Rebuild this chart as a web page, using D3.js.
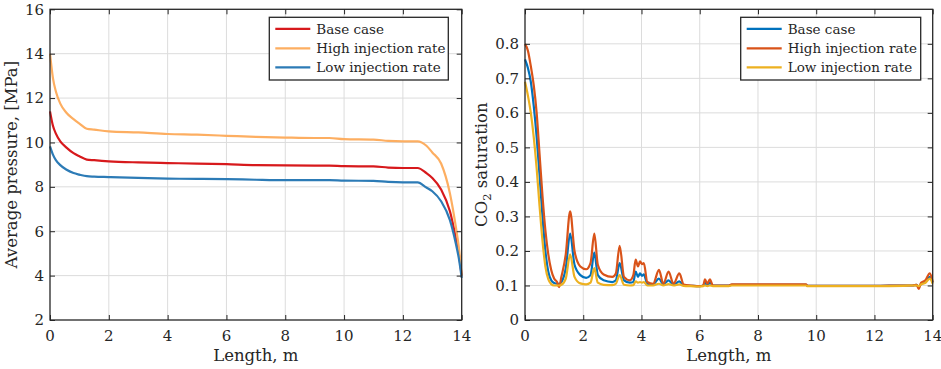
<!DOCTYPE html>
<html>
<head>
<meta charset="utf-8">
<script src="https://cdn.jsdelivr.net/npm/d3@7"></script>
<style>
  html, body { margin: 0; padding: 0; background: #fff; }
</style>
</head>
<body>
<div id="chart"></div>
<script>
// Left panel: average pressure along the core
const lenP = [0, 0.1, 0.2, 0.35, 0.55, 0.8, 1.0, 1.25, 1.5, 2, 3, 4, 5, 6, 7, 8, 9, 9.5, 10, 11, 11.5, 12, 12.5, 12.8, 13.0, 13.3, 13.6, 13.8, 13.9, 14];
const pBase = [11.4, 10.75, 10.4, 10.05, 9.78, 9.52, 9.38, 9.23, 9.2, 9.15, 9.1, 9.07, 9.05, 9.02, 8.98, 8.97, 8.96, 8.96, 8.93, 8.92, 8.87, 8.85, 8.85, 8.62, 8.4, 7.88, 6.9, 5.7, 5.0, 4.0];
const pHigh = [14.0, 12.9, 12.3, 11.75, 11.35, 11.05, 10.85, 10.62, 10.58, 10.5, 10.45, 10.38, 10.35, 10.3, 10.25, 10.22, 10.2, 10.2, 10.15, 10.13, 10.07, 10.05, 10.05, 9.85, 9.55, 9.05, 7.7, 6.2, 5.3, 4.0];
const pLow = [9.82, 9.45, 9.2, 8.98, 8.78, 8.62, 8.55, 8.48, 8.46, 8.44, 8.4, 8.37, 8.36, 8.35, 8.32, 8.3, 8.3, 8.3, 8.28, 8.27, 8.22, 8.2, 8.2, 7.97, 7.8, 7.35, 6.5, 5.45, 4.8, 3.9];

// Right panel: CO2 saturation along the core
const lenS = [0, 0.1, 0.2, 0.3, 0.4, 0.5, 0.6, 0.7, 0.8, 0.9, 1.0, 1.1, 1.17, 1.25, 1.4, 1.55, 1.7, 1.9, 2.1, 2.25, 2.38, 2.5, 2.7, 3.0, 3.12, 3.25, 3.4, 3.6, 3.72, 3.8, 3.88, 3.95, 4.02, 4.08, 4.2, 4.4, 4.6, 4.75, 4.93, 5.1, 5.3, 5.45, 5.7, 6.0, 6.12, 6.18, 6.26, 6.35, 6.45, 7.0, 7.1, 8.0, 9.0, 9.65, 9.7, 11, 12, 13, 13.3, 13.45, 13.52, 13.6, 13.75, 13.9, 14];
const sBase = [0.755, 0.73, 0.69, 0.62, 0.53, 0.42, 0.30, 0.2, 0.14, 0.115, 0.107, 0.105, 0.105, 0.11, 0.15, 0.25, 0.16, 0.13, 0.122, 0.13, 0.195, 0.13, 0.115, 0.11, 0.115, 0.165, 0.115, 0.108, 0.11, 0.14, 0.125, 0.135, 0.128, 0.132, 0.105, 0.103, 0.12, 0.103, 0.115, 0.102, 0.112, 0.1, 0.099, 0.098, 0.1, 0.108, 0.1, 0.108, 0.1, 0.1, 0.102, 0.102, 0.102, 0.102, 0.099, 0.099, 0.099, 0.1, 0.1, 0.102, 0.095, 0.105, 0.11, 0.125, 0.108];
const sHigh = [0.8, 0.78, 0.735, 0.68, 0.6, 0.48, 0.36, 0.26, 0.19, 0.145, 0.12, 0.11, 0.095, 0.125, 0.19, 0.315, 0.2, 0.155, 0.147, 0.165, 0.25, 0.16, 0.132, 0.125, 0.135, 0.215, 0.125, 0.115, 0.13, 0.175, 0.155, 0.17, 0.162, 0.165, 0.11, 0.105, 0.145, 0.105, 0.14, 0.105, 0.135, 0.103, 0.1, 0.098, 0.1, 0.118, 0.105, 0.118, 0.1, 0.1, 0.103, 0.103, 0.103, 0.103, 0.099, 0.099, 0.099, 0.1, 0.1, 0.102, 0.09, 0.108, 0.115, 0.135, 0.11];
const sLow = [0.69, 0.65, 0.6, 0.53, 0.44, 0.33, 0.23, 0.155, 0.118, 0.104, 0.1, 0.1, 0.1, 0.102, 0.12, 0.19, 0.125, 0.106, 0.103, 0.108, 0.15, 0.108, 0.102, 0.101, 0.105, 0.13, 0.102, 0.1, 0.101, 0.112, 0.108, 0.11, 0.108, 0.11, 0.1, 0.1, 0.105, 0.1, 0.104, 0.1, 0.103, 0.099, 0.098, 0.097, 0.098, 0.1, 0.098, 0.1, 0.098, 0.098, 0.1, 0.1, 0.1, 0.1, 0.098, 0.098, 0.098, 0.099, 0.1, 0.1, 0.098, 0.103, 0.108, 0.12, 0.105];

const seriesNames = ['Base case', 'High injection rate', 'Low injection rate'];
const xTicks = [0, 2, 4, 6, 8, 10, 12, 14];
const pTicks = [2, 4, 6, 8, 10, 12, 14, 16];
const sTicks = [0, 0.1, 0.2, 0.3, 0.4, 0.5, 0.6, 0.7, 0.8];

const FONT = 'DejaVu Serif';
const W = 941, H = 369;
const svg = d3.select('#chart').append('svg')
  .attr('width', W)
  .attr('height', H);
svg.append('rect').attr('width', W).attr('height', H).attr('fill', '#fff');

function drawPanel(cfg) {
  const { left, right, top, bottom } = cfg.box;
  const x = d3.scaleLinear().domain([0, 14]).range([left, right]);
  const y = d3.scaleLinear().domain(cfg.yDomain).range([bottom, top]);
  const g = svg.append('g');

  // grid
  g.append('g').selectAll('line').data(xTicks.slice(1, -1)).join('line')
    .attr('x1', d => x(d)).attr('x2', d => x(d))
    .attr('y1', top).attr('y2', bottom)
    .attr('stroke', '#dcdcdc').attr('stroke-width', 1);
  g.append('g').selectAll('line').data(cfg.yTicks.filter(d => y(d) > top + 1 && y(d) < bottom - 1)).join('line')
    .attr('x1', left).attr('x2', right)
    .attr('y1', d => y(d)).attr('y2', d => y(d))
    .attr('stroke', '#dcdcdc').attr('stroke-width', 1);

  // lines
  const line = d3.line()
    .x(d => x(d[0]))
    .y(d => y(d[1]))
    .curve(d3.curveMonotoneX);
  cfg.series.forEach((vals, i) => {
    g.append('path')
      .datum(cfg.len.map((l, k) => [l, vals[k]]))
      .attr('fill', 'none')
      .attr('stroke', cfg.colors[i])
      .attr('stroke-width', 2.2)
      .attr('stroke-linejoin', 'round')
      .attr('d', line);
  });

  // axes: inward ticks on all four sides
  const tick = 5;
  const fmtNone = () => '';
  const styleAxis = sel => {
    sel.select('.domain').remove();
    sel.selectAll('.tick line').attr('stroke', '#262626').attr('stroke-width', 1);
  };
  g.append('g').attr('transform', `translate(0,${bottom})`)
    .call(d3.axisBottom(x).tickValues(xTicks).tickSizeInner(-tick).tickSizeOuter(0).tickFormat(fmtNone))
    .call(styleAxis);
  g.append('g').attr('transform', `translate(0,${top})`)
    .call(d3.axisTop(x).tickValues(xTicks).tickSizeInner(-tick).tickSizeOuter(0).tickFormat(fmtNone))
    .call(styleAxis);
  g.append('g').attr('transform', `translate(${left},0)`)
    .call(d3.axisLeft(y).tickValues(cfg.yTicks).tickSizeInner(-tick).tickSizeOuter(0).tickFormat(fmtNone))
    .call(styleAxis);
  g.append('g').attr('transform', `translate(${right},0)`)
    .call(d3.axisRight(y).tickValues(cfg.yTicks).tickSizeInner(-tick).tickSizeOuter(0).tickFormat(fmtNone))
    .call(styleAxis);

  g.append('rect')
    .attr('x', left).attr('y', top)
    .attr('width', right - left).attr('height', bottom - top)
    .attr('fill', 'none').attr('stroke', '#262626').attr('stroke-width', 1.3);

  // tick labels
  g.append('g').selectAll('text').data(xTicks).join('text')
    .attr('x', d => x(d)).attr('y', bottom + 21)
    .attr('text-anchor', 'middle')
    .style('font-family', FONT)
    .attr('font-size', 15).attr('fill', '#262626')
    .text(d => d);
  g.append('g').selectAll('text').data(cfg.yTicks).join('text')
    .attr('x', left - 6).attr('y', d => y(d))
    .attr('dy', '0.36em')
    .attr('text-anchor', 'end')
    .style('font-family', FONT)
    .attr('font-size', 15).attr('fill', '#262626')
    .text(cfg.yFmt);

  // axis titles
  g.append('text')
    .attr('x', (left + right) / 2).attr('y', 361)
    .attr('text-anchor', 'middle')
    .style('font-family', FONT)
    .attr('font-size', 16.5).attr('fill', '#262626')
    .text('Length, m');
  const yl = g.append('text')
    .attr('transform', `translate(${cfg.yLabelX},${(top + bottom) / 2}) rotate(-90)`)
    .attr('text-anchor', 'middle')
    .style('font-family', FONT)
    .attr('font-size', 16.5).attr('fill', '#262626');
  cfg.yLabel(yl);

  // legend
  const lg = cfg.legend;
  g.append('rect')
    .attr('x', lg.x).attr('y', lg.y).attr('width', lg.w).attr('height', lg.h)
    .attr('fill', '#fff').attr('stroke', '#262626').attr('stroke-width', 1.3);
  const rows = [lg.y + 11.5, lg.y + 31, lg.y + 50];
  seriesNames.forEach((name, i) => {
    g.append('line')
      .attr('x1', lg.x + 6).attr('x2', lg.x + 41)
      .attr('y1', rows[i]).attr('y2', rows[i])
      .attr('stroke', cfg.colors[i]).attr('stroke-width', 2.2);
    g.append('text')
      .attr('x', lg.x + 47).attr('y', rows[i])
      .attr('dy', '0.36em')
      .style('font-family', FONT)
      .attr('font-size', 13.5).attr('fill', '#262626')
      .text(name);
  });
}

drawPanel({
  box: { left: 50, right: 461.7, top: 9.3, bottom: 320 },
  yDomain: [2, 16],
  yTicks: pTicks,
  yFmt: d => d,
  len: lenP,
  series: [pBase, pHigh, pLow],
  colors: ['#d7191c', '#fdae61', '#2c7bb6'],
  yLabelX: 17,
  yLabel: t => t.text('Average pressure, [MPa]'),
  legend: { x: 269.3, y: 17.3, w: 179, h: 62.7 }
});

drawPanel({
  box: { left: 525, right: 932.7, top: 9.3, bottom: 320 },
  yDomain: [0, 0.9],
  yTicks: sTicks,
  yFmt: d => d === 0 ? '0' : d.toFixed(1),
  len: lenS,
  series: [sBase, sHigh, sLow],
  colors: ['#0072bd', '#d95319', '#edb120'],
  yLabelX: 487,
  yLabel: t => {
    t.append('tspan').text('CO');
    t.append('tspan').attr('font-size', 11.5).attr('dy', 4).text('2');
    t.append('tspan').attr('dy', -4).text(' saturation');
  },
  legend: { x: 740.7, y: 17.3, w: 180, h: 62.7 }
});
</script>
</body>
</html>
